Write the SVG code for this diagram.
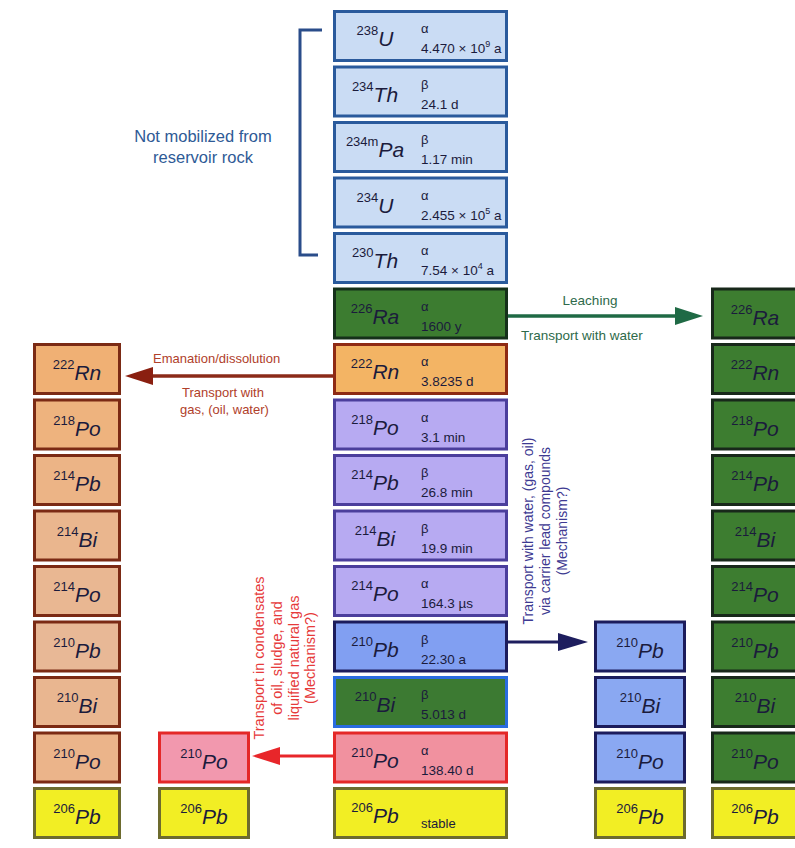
<svg xmlns="http://www.w3.org/2000/svg" width="795" height="848" viewBox="0 0 795 848">
<defs>
<style>
text{font-family:"Liberation Sans",Arial,sans-serif;fill:#1b1b3c}
.nuc{text-anchor:middle}
.sup{font-size:13px}
.el{font-size:21px;font-style:italic}
.dm{font-size:13px}
.hl{font-size:13.5px}
.box{stroke-width:3}
.c{width:172px;height:49px}
.n{height:49px}
.blue{fill:#cadcf4;stroke:#2a5a9c}
.grn{fill:#3c7c30;stroke:#15301a}
.org{fill:#f3b464;stroke:#8e2a14}
.lav{fill:#b7aaf2;stroke:#4b3e9c}
.pb{fill:#819ff2;stroke:#1c1c5c}
.bi{fill:#3c7a32;stroke:#2a6ce0}
.po{fill:#f1919f;stroke:#e42828}
.yel{fill:#f2ee24;stroke:#6d6b2e}
.tan{stroke:#7b2a14}
.bcol{fill:#8aa8f2;stroke:#1c1c5c}
.rg{fill:#3d7d30;stroke:#18281a}
</style>
</defs>
<rect width="795" height="848" fill="#ffffff"/>

<g id="bracket">
<path d="M322,30 H300 V255 H318" fill="none" stroke="#2a4d8a" stroke-width="3"/>
<text x="203" y="142" text-anchor="middle" style="font-size:16.5px;fill:#2e5a96">Not mobilized from</text>
<text x="203" y="163" text-anchor="middle" style="font-size:16.5px;fill:#2e5a96">reservoir rock</text>
</g>

<g id="c-U238"><rect class="box blue" x="334.5" y="11.5" width="172" height="49"/>
<text class="nuc" x="375" y="46"><tspan class="sup" dy="-11">238</tspan><tspan class="el" dy="11">U</tspan></text>
<text class="dm" x="421" y="33">α</text><text class="hl" x="421" y="53">4.470 × 10<tspan font-size="9" dy="-6">9</tspan><tspan dy="6"> a</tspan></text></g>

<g id="c-Th234"><rect class="box blue" x="334.5" y="67" width="172" height="49"/>
<text class="nuc" x="375" y="101.5"><tspan class="sup" dy="-11">234</tspan><tspan class="el" dy="11">Th</tspan></text>
<text class="dm" x="421" y="88.5">β</text><text class="hl" x="421" y="108.5">24.1 d</text></g>

<g id="c-Pa234m"><rect class="box blue" x="334.5" y="122.5" width="172" height="49"/>
<text class="nuc" x="375" y="157"><tspan class="sup" dy="-11">234m</tspan><tspan class="el" dy="11">Pa</tspan></text>
<text class="dm" x="421" y="144">β</text><text class="hl" x="421" y="164">1.17 min</text></g>

<g id="c-U234"><rect class="box blue" x="334.5" y="178" width="172" height="49"/>
<text class="nuc" x="375" y="212.5"><tspan class="sup" dy="-11">234</tspan><tspan class="el" dy="11">U</tspan></text>
<text class="dm" x="421" y="199.5">α</text><text class="hl" x="421" y="219.5">2.455 × 10<tspan font-size="9" dy="-6">5</tspan><tspan dy="6"> a</tspan></text></g>

<g id="c-Th230"><rect class="box blue" x="334.5" y="233.5" width="172" height="49"/>
<text class="nuc" x="375" y="268"><tspan class="sup" dy="-11">230</tspan><tspan class="el" dy="11">Th</tspan></text>
<text class="dm" x="421" y="255">α</text><text class="hl" x="421" y="275">7.54 × 10<tspan font-size="9" dy="-6">4</tspan><tspan dy="6"> a</tspan></text></g>

<g id="c-Ra226"><rect class="box grn" x="334.5" y="289" width="172" height="49"/>
<text class="nuc" x="375" y="323.5"><tspan class="sup" dy="-11">226</tspan><tspan class="el" dy="11">Ra</tspan></text>
<text class="dm" x="421" y="310.5">α</text><text class="hl" x="421" y="330.5">1600 y</text></g>

<g id="c-Rn222"><rect class="box org" x="334.5" y="344.5" width="172" height="49"/>
<text class="nuc" x="375" y="379"><tspan class="sup" dy="-11">222</tspan><tspan class="el" dy="11">Rn</tspan></text>
<text class="dm" x="421" y="366">α</text><text class="hl" x="421" y="386">3.8235 d</text></g>

<g id="c-Po218"><rect class="box lav" x="334.5" y="400" width="172" height="49"/>
<text class="nuc" x="375" y="434.5"><tspan class="sup" dy="-11">218</tspan><tspan class="el" dy="11">Po</tspan></text>
<text class="dm" x="421" y="421.5">α</text><text class="hl" x="421" y="441.5">3.1 min</text></g>

<g id="c-Pb214"><rect class="box lav" x="334.5" y="455.5" width="172" height="49"/>
<text class="nuc" x="375" y="490"><tspan class="sup" dy="-11">214</tspan><tspan class="el" dy="11">Pb</tspan></text>
<text class="dm" x="421" y="477">β</text><text class="hl" x="421" y="497">26.8 min</text></g>

<g id="c-Bi214"><rect class="box lav" x="334.5" y="511" width="172" height="49"/>
<text class="nuc" x="375" y="545.5"><tspan class="sup" dy="-11">214</tspan><tspan class="el" dy="11">Bi</tspan></text>
<text class="dm" x="421" y="532.5">β</text><text class="hl" x="421" y="552.5">19.9 min</text></g>

<g id="c-Po214"><rect class="box lav" x="334.5" y="566.5" width="172" height="49"/>
<text class="nuc" x="375" y="601"><tspan class="sup" dy="-11">214</tspan><tspan class="el" dy="11">Po</tspan></text>
<text class="dm" x="421" y="588">α</text><text class="hl" x="421" y="608">164.3 µs</text></g>

<g id="c-Pb210"><rect class="box pb" x="334.5" y="622" width="172" height="49"/>
<text class="nuc" x="375" y="656.5"><tspan class="sup" dy="-11">210</tspan><tspan class="el" dy="11">Pb</tspan></text>
<text class="dm" x="421" y="643.5">β</text><text class="hl" x="421" y="663.5">22.30 a</text></g>

<g id="c-Bi210"><rect class="box bi" x="334.5" y="677.5" width="172" height="49"/>
<text class="nuc" x="375" y="712"><tspan class="sup" dy="-11">210</tspan><tspan class="el" dy="11">Bi</tspan></text>
<text class="dm" x="421" y="699">β</text><text class="hl" x="421" y="719">5.013 d</text></g>

<g id="c-Po210"><rect class="box po" x="334.5" y="733" width="172" height="49"/>
<text class="nuc" x="375" y="767.5"><tspan class="sup" dy="-11">210</tspan><tspan class="el" dy="11">Po</tspan></text>
<text class="dm" x="421" y="754.5">α</text><text class="hl" x="421" y="774.5">138.40 d</text></g>

<g id="c-Pb206"><rect class="box yel" x="334.5" y="788.5" width="172" height="49"/>
<text class="nuc" x="375" y="823"><tspan class="sup" dy="-11">206</tspan><tspan class="el" dy="11">Pb</tspan></text>
<text class="dm" x="421" y="828">stable</text></g>

<g id="l-Rn222"><rect class="box tan" fill="#f0b074" x="34.5" y="344.5" width="85" height="49"/>
<text class="nuc" x="77" y="380"><tspan class="sup" dy="-11">222</tspan><tspan class="el" dy="11">Rn</tspan></text></g>
<g id="l-Po218"><rect class="box tan" fill="#eeb37e" x="34.5" y="400" width="85" height="49"/>
<text class="nuc" x="77" y="435.5"><tspan class="sup" dy="-11">218</tspan><tspan class="el" dy="11">Po</tspan></text></g>
<g id="l-Pb214"><rect class="box tan" fill="#ecb486" x="34.5" y="455.5" width="85" height="49"/>
<text class="nuc" x="77" y="491"><tspan class="sup" dy="-11">214</tspan><tspan class="el" dy="11">Pb</tspan></text></g>
<g id="l-Bi214"><rect class="box tan" fill="#eab68e" x="34.5" y="511" width="85" height="49"/>
<text class="nuc" x="77" y="546.5"><tspan class="sup" dy="-11">214</tspan><tspan class="el" dy="11">Bi</tspan></text></g>
<g id="l-Po214"><rect class="box tan" fill="#e9b792" x="34.5" y="566.5" width="85" height="49"/>
<text class="nuc" x="77" y="602"><tspan class="sup" dy="-11">214</tspan><tspan class="el" dy="11">Po</tspan></text></g>
<g id="l-Pb210"><rect class="box tan" fill="#e8b896" x="34.5" y="622" width="85" height="49"/>
<text class="nuc" x="77" y="657.5"><tspan class="sup" dy="-11">210</tspan><tspan class="el" dy="11">Pb</tspan></text></g>
<g id="l-Bi210"><rect class="box tan" fill="#e9b690" x="34.5" y="677.5" width="85" height="49"/>
<text class="nuc" x="77" y="713"><tspan class="sup" dy="-11">210</tspan><tspan class="el" dy="11">Bi</tspan></text></g>
<g id="l-Po210"><rect class="box tan" fill="#ebb48a" x="34.5" y="733" width="85" height="49"/>
<text class="nuc" x="77" y="768.5"><tspan class="sup" dy="-11">210</tspan><tspan class="el" dy="11">Po</tspan></text></g>
<g id="l-Pb206"><rect class="box yel" x="34.5" y="788.5" width="85" height="49"/>
<text class="nuc" x="77" y="824"><tspan class="sup" dy="-11">206</tspan><tspan class="el" dy="11">Pb</tspan></text></g>

<g id="m-Po210"><rect class="box" fill="#f298ae" stroke="#e42828" x="159.5" y="733" width="89" height="49"/>
<text class="nuc" x="204" y="768.5"><tspan class="sup" dy="-11">210</tspan><tspan class="el" dy="11">Po</tspan></text></g>
<g id="m-Pb206"><rect class="box yel" x="159.5" y="788.5" width="89" height="49"/>
<text class="nuc" x="204" y="824"><tspan class="sup" dy="-11">206</tspan><tspan class="el" dy="11">Pb</tspan></text></g>

<g id="b-Pb210"><rect class="box bcol" x="595.5" y="622" width="89" height="49"/>
<text class="nuc" x="640" y="657.5"><tspan class="sup" dy="-11">210</tspan><tspan class="el" dy="11">Pb</tspan></text></g>
<g id="b-Bi210"><rect class="box bcol" x="595.5" y="677.5" width="89" height="49"/>
<text class="nuc" x="640" y="713"><tspan class="sup" dy="-11">210</tspan><tspan class="el" dy="11">Bi</tspan></text></g>
<g id="b-Po210"><rect class="box bcol" x="595.5" y="733" width="89" height="49"/>
<text class="nuc" x="640" y="768.5"><tspan class="sup" dy="-11">210</tspan><tspan class="el" dy="11">Po</tspan></text></g>
<g id="b-Pb206"><rect class="box yel" x="595.5" y="788.5" width="89" height="49"/>
<text class="nuc" x="640" y="824"><tspan class="sup" dy="-11">206</tspan><tspan class="el" dy="11">Pb</tspan></text></g>

<g id="r-Ra226"><rect class="box rg" x="712.5" y="289" width="92" height="49"/>
<text class="nuc" x="755" y="324.5"><tspan class="sup" dy="-11">226</tspan><tspan class="el" dy="11">Ra</tspan></text></g>
<g id="r-Rn222"><rect class="box rg" x="712.5" y="344.5" width="92" height="49"/>
<text class="nuc" x="755" y="380"><tspan class="sup" dy="-11">222</tspan><tspan class="el" dy="11">Rn</tspan></text></g>
<g id="r-Po218"><rect class="box rg" x="712.5" y="400" width="92" height="49"/>
<text class="nuc" x="755" y="435.5"><tspan class="sup" dy="-11">218</tspan><tspan class="el" dy="11">Po</tspan></text></g>
<g id="r-Pb214"><rect class="box rg" x="712.5" y="455.5" width="92" height="49"/>
<text class="nuc" x="755" y="491"><tspan class="sup" dy="-11">214</tspan><tspan class="el" dy="11">Pb</tspan></text></g>
<g id="r-Bi214"><rect class="box rg" x="712.5" y="511" width="92" height="49"/>
<text class="nuc" x="755" y="546.5"><tspan class="sup" dy="-11">214</tspan><tspan class="el" dy="11">Bi</tspan></text></g>
<g id="r-Po214"><rect class="box rg" x="712.5" y="566.5" width="92" height="49"/>
<text class="nuc" x="755" y="602"><tspan class="sup" dy="-11">214</tspan><tspan class="el" dy="11">Po</tspan></text></g>
<g id="r-Pb210"><rect class="box rg" x="712.5" y="622" width="92" height="49"/>
<text class="nuc" x="755" y="657.5"><tspan class="sup" dy="-11">210</tspan><tspan class="el" dy="11">Pb</tspan></text></g>
<g id="r-Bi210"><rect class="box rg" x="712.5" y="677.5" width="92" height="49"/>
<text class="nuc" x="755" y="713"><tspan class="sup" dy="-11">210</tspan><tspan class="el" dy="11">Bi</tspan></text></g>
<g id="r-Po210"><rect class="box rg" x="712.5" y="733" width="92" height="49"/>
<text class="nuc" x="755" y="768.5"><tspan class="sup" dy="-11">210</tspan><tspan class="el" dy="11">Po</tspan></text></g>
<g id="r-Pb206"><rect class="box yel" x="712.5" y="788.5" width="92" height="49"/>
<text class="nuc" x="755" y="824"><tspan class="sup" dy="-11">206</tspan><tspan class="el" dy="11">Pb</tspan></text></g>

<g id="connectors">
<line x1="508" y1="316" x2="678" y2="316" stroke="#1f6a45" stroke-width="3.5"/>
<polygon points="675,307 703,316 675,325" fill="#1f6a45"/>
<line x1="333" y1="376" x2="150" y2="376" stroke="#8b2a18" stroke-width="3.5"/>
<polygon points="153,367 125,376 153,385" fill="#8a1f10"/>
<line x1="508" y1="642" x2="561" y2="642" stroke="#1e1e5e" stroke-width="3"/>
<polygon points="558,633 588,642 558,651" fill="#1e1e5e"/>
<line x1="333" y1="756" x2="277" y2="756" stroke="#e8262a" stroke-width="3"/>
<polygon points="280,747 252,756 280,765" fill="#e8262a"/>
</g>

<g id="labels">
<text x="590" y="305" text-anchor="middle" style="font-size:13.5px;fill:#2e6a4a">Leaching</text>
<text x="521" y="340" style="font-size:13.5px;fill:#2e6a4a">Transport with water</text>
<text x="153" y="363" style="font-size:13px;fill:#b0402a">Emanation/dissolution</text>
<text x="182" y="397" style="font-size:13px;fill:#b0402a">Transport with</text>
<text x="180" y="414" style="font-size:13px;fill:#b0402a">gas, (oil, water)</text>
<g transform="translate(533,531) rotate(-90)" style="font-size:14px">
<text x="0" y="0" text-anchor="middle" style="fill:#3e3a92">Transport with water, (gas, oil)</text>
<text x="0" y="17" text-anchor="middle" style="fill:#3e3a92">via carrier lead compounds</text>
<text x="0" y="34" text-anchor="middle" style="fill:#3e3a92">(Mechanism?)</text>
</g>
<g transform="translate(264,658) rotate(-90)" style="font-size:14.5px">
<text x="0" y="0" text-anchor="middle" style="fill:#e63a3a">Transport in condensates</text>
<text x="0" y="17.5" text-anchor="middle" style="fill:#e63a3a">of oil, sludge, and</text>
<text x="0" y="35" text-anchor="middle" style="fill:#e63a3a">liquified natural gas</text>
<text x="0" y="51" text-anchor="middle" style="fill:#e63a3a">(Mechanism?)</text>
</g>
</g>
</svg>
